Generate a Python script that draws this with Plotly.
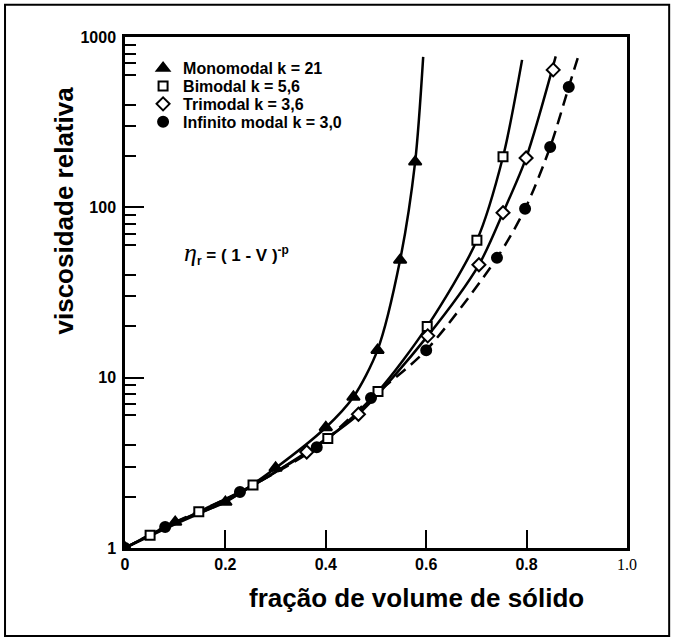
import plotly.graph_objects as go

# ---------------- data ----------------
# marker points
mono_x = [0.0, 0.10, 0.20, 0.30, 0.40, 0.455, 0.503, 0.548, 0.578]
mono_y = [1.0, 1.42, 1.86, 2.95, 5.1, 7.7, 14.5, 49, 185]
bi_x = [0.05, 0.147, 0.255, 0.404, 0.504, 0.602, 0.701, 0.753]
bi_y = [1.19, 1.63, 2.34, 4.4, 8.3, 20, 64, 198]
tri_x = [0.362, 0.465, 0.603, 0.705, 0.753, 0.799, 0.853]
tri_y = [3.66, 6.1, 17.6, 46, 93, 195, 641]
inf_x = [0.0, 0.08, 0.229, 0.382, 0.49, 0.60, 0.741, 0.797, 0.847, 0.884]
inf_y = [1.0, 1.33, 2.13, 3.9, 7.6, 14.5, 50.5, 98, 226, 509]

# fitted curves (as drawn in the picture)
mono_cx = [0.0, 0.10, 0.20, 0.30, 0.40, 0.455, 0.503, 0.548, 0.578, 0.594]
mono_cy = [1.0, 1.42, 1.86, 2.95, 5.1, 7.7, 14.5, 49, 185, 764]
bi_cx = [0.0, 0.05, 0.147, 0.255, 0.404, 0.504, 0.602, 0.701, 0.753, 0.791]
bi_cy = [1.0, 1.19, 1.63, 2.34, 4.4, 8.3, 20, 64, 198, 734]
tri_cx = [0.0, 0.10, 0.20, 0.362, 0.465, 0.603, 0.705, 0.753, 0.799, 0.858]
tri_cy = [1.0, 1.38, 1.88, 3.66, 6.1, 17.6, 46, 93, 195, 770]
inf_cx = [0.0, 0.08, 0.229, 0.382, 0.49, 0.60, 0.741, 0.797, 0.847, 0.884, 0.902]
inf_cy = [1.0, 1.33, 2.13, 3.9, 7.6, 14.5, 50.5, 98, 226, 509, 754]

series_names = ["Monomodal k = 21", "Bimodal k = 5,6", "Trimodal k = 3,6",
                "Infinito modal k = 3,0"]

x_tickvals = [0, 0.2, 0.4, 0.6, 0.8, 1.0]
x_ticktext = ["0", "0.2", "0.4", "0.6", "0.8",
              "<span style='font-family:Liberation Serif;font-weight:normal'>1.0</span>"]
y_tickvals = [1, 10, 100, 1000]
y_ticktext = ["1", "10", "100", "1000"]
y_mid_ticks = [5, 50, 500]
y_minor = [2, 3, 4, 6, 7, 8, 9, 20, 30, 40, 60, 70, 80, 90,
           200, 300, 400, 600, 700, 800, 900]

# ---------------- figure ----------------
fig = go.Figure()

curve_sets = [(mono_cx, mono_cy, "solid"), (bi_cx, bi_cy, "solid"),
              (tri_cx, tri_cy, "solid"), (inf_cx, inf_cy, "12px,7px")]
for cx, cy, dash in curve_sets:
    fig.add_trace(go.Scatter(x=cx, y=cy, mode="lines", showlegend=False,
                             hoverinfo="skip",
                             line=dict(color="black", width=2.5, dash=dash,
                                       shape="spline", smoothing=0.8)))

marker_sets = [
    (mono_x, mono_y, "triangle-up", "black", 11),
    (bi_x, bi_y, "square", "white", 9),
    (tri_x, tri_y, "diamond", "white", 10),
    (inf_x, inf_y, "circle", "black", 10),
]
legend_ids = ["legend", "legend2", "legend3", "legend4"]
for (mx, my, sym, fill, size), name, lid in zip(marker_sets, series_names,
                                                 legend_ids):
    fig.add_trace(go.Scatter(x=mx, y=my, mode="markers", name=name,
                             legend=lid,
                             marker=dict(symbol=sym, color=fill, size=size,
                                         line=dict(color="black", width=2))))

tickfont = dict(family="Liberation Sans", size=16, color="black", weight="bold")
legfont = dict(family="Liberation Sans", size=16, color="black", weight="bold")
legend_rows = [0.939, 0.904, 0.869, 0.834]


def leg(yv):
    return dict(x=0.036, y=yv, xanchor="left", yanchor="middle",
                bgcolor="rgba(0,0,0,0)", borderwidth=0, font=legfont)


fig.update_layout(
    width=675, height=641,
    margin=dict(l=125, r=48, t=37, b=93),
    paper_bgcolor="white", plot_bgcolor="white",
    showlegend=True,
    legend=leg(legend_rows[0]),
    legend2=leg(legend_rows[1]),
    legend3=leg(legend_rows[2]),
    legend4=leg(legend_rows[3]),
    xaxis=dict(range=[0, 1.0], tickmode="array", tickvals=x_tickvals,
               ticktext=x_ticktext, ticks="inside", ticklen=18, tickwidth=2,
               tickcolor="black", showline=True, linewidth=2.5,
               linecolor="black", mirror=True, showgrid=False, zeroline=False,
               tickfont=tickfont),
    yaxis=dict(type="log", range=[0, 3], tickmode="array", tickvals=y_tickvals,
               ticktext=y_ticktext, ticks="inside", ticklen=19, tickwidth=2,
               tickcolor="black", showline=True, linewidth=2.5,
               linecolor="black", mirror=True, showgrid=False, zeroline=False,
               tickfont=tickfont, ticklabelstandoff=3,
               minor=dict(tickmode="array", tickvals=y_minor, ticks="inside",
                          ticklen=11, tickwidth=2, tickcolor="black",
                          showgrid=False)),
    yaxis2=dict(type="log", range=[0, 3], overlaying="y", anchor="x",
                side="left", tickmode="array", tickvals=y_mid_ticks,
                ticks="inside", ticklen=16, tickwidth=2, tickcolor="black",
                showticklabels=False, showline=False, showgrid=False,
                zeroline=False),
    annotations=[
        dict(text="fração de volume de sólido", xref="paper", yref="paper",
             x=0.58, y=-0.097, xanchor="center", yanchor="middle",
             showarrow=False,
             font=dict(family="Liberation Sans", size=26, color="black",
                       weight="bold")),
        dict(text="viscosidade relativa", xref="paper", yref="paper",
             x=-0.122, y=0.66, xanchor="center", yanchor="middle",
             textangle=-90, showarrow=False,
             font=dict(family="Liberation Sans", size=26, color="black",
                       weight="bold")),
        dict(text="<span style='font-family:Liberation Serif;font-size:26px;"
                  "font-style:italic;font-weight:normal'>η</span>"
                  "<sub>r</sub> = ( 1 - V )<sup>-p</sup>",
             xref="x", yref="y", x=0.114, y=1.732, xanchor="left",
             yanchor="middle", showarrow=False,
             font=dict(family="Liberation Sans", size=17, color="black",
                       weight="bold")),
    ],
    shapes=[
        dict(type="rect", xref="paper", yref="paper",
             x0=-0.239, x1=1.084, y0=-0.172, y1=1.063,
             line=dict(color="black", width=2), fillcolor="rgba(0,0,0,0)"),
    ],
)

fig.write_html("out.html")
